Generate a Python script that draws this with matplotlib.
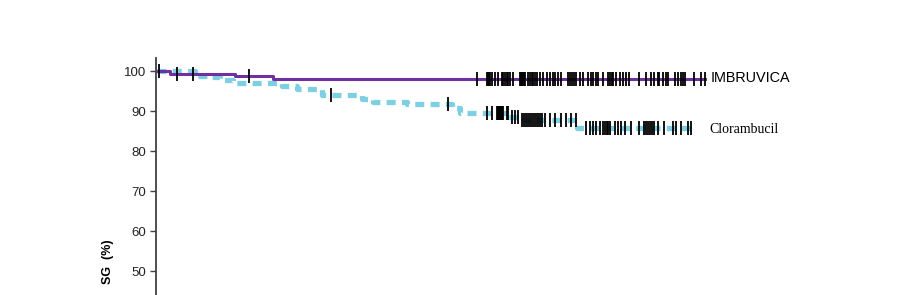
import matplotlib.pyplot as plt
import numpy as np

# survival curves (months, % alive)
ibr_t = [0, 0.87, 5.2, 7.7, 36.53]
ibr_s = [100, 99.2, 98.8, 98.0, 98.0]

clb_t = [0, 2.53, 3.33, 4.2, 5.07, 8.33, 9.33, 11.0, 13.67, 14.4, 16.67,
         19.67, 20.2, 23.4, 24.2, 28.0, 35.6]
clb_s = [100, 98.8, 98.4, 97.7, 96.9, 96.2, 95.4, 94.0, 93.0, 92.3, 91.75,
         90.7, 89.4, 88.4, 87.75, 85.7, 85.7]

# censored patients
ibr_cens = [0.13, 1.33, 2.4, 6.13, 21.33, 22.0, 22.07, 22.13, 22.2, 22.33,
            22.53, 22.73, 23.0, 23.07, 23.2, 23.33, 23.4, 23.53, 23.73, 24.2,
            24.27, 24.33, 24.4, 24.47, 24.53, 24.73, 24.87, 25.0, 25.07, 25.2,
            25.33, 25.53, 25.73, 26.0, 26.2, 26.4, 26.53, 26.73, 26.93, 27.4,
            27.53, 27.67, 27.8, 27.93, 28.2, 28.4, 28.73, 28.93, 29.07, 29.27,
            29.4, 29.73, 30.07, 30.2, 30.33, 30.4, 30.6, 30.87, 31.07, 31.27,
            31.47, 32.13, 32.6, 32.93, 33.13, 33.4, 33.47, 33.73, 33.93, 34.07,
            34.53, 34.73, 34.93, 35.07, 35.2, 35.8, 36.27, 36.53]
clb_cens = [11.6, 19.4, 22.0, 22.33, 22.67, 22.73, 22.8, 22.87, 22.93, 23.0,
            23.07, 23.33, 23.38, 23.67, 23.87, 24.07, 24.33, 24.47, 24.6,
            24.73, 24.87, 25.0, 25.13, 25.27, 25.4, 25.53, 25.67, 25.87, 26.2,
            26.53, 26.93, 27.27, 27.6, 27.93, 28.6, 28.87, 29.07, 29.27, 29.53,
            29.73, 29.87, 30.0, 30.07, 30.2, 30.53, 30.73, 30.93, 31.2, 31.6,
            32.13, 32.47, 32.6, 32.73, 32.87, 33.0, 33.13, 33.4, 33.8, 34.4,
            34.6, 34.93, 35.4, 35.6]

yticks = [50, 60, 70, 80, 90, 100]


def step_at(t, times, surv):
    idx = np.searchsorted(times, t, side='right') - 1
    return np.asarray(surv)[idx]


fig = plt.figure(figsize=(9.19, 2.95), dpi=100)
ax = fig.add_axes([156 / 919, 0, 0.9 - 156 / 919, (295 - 58) / 295])

ax.plot(clb_t, clb_s, drawstyle='steps-post', color='#7ecfe1', lw=3.8,
        dashes=(1.7, 1.2), solid_capstyle='butt', zorder=2)
ax.plot(ibr_t, ibr_s, drawstyle='steps-post', color='#7030a0', lw=2.2,
        zorder=3)

ax.plot(ibr_cens, step_at(ibr_cens, ibr_t, ibr_s), ls='none', marker='|',
        ms=9.5, mew=1.3, color='black', zorder=4)
ax.plot(clb_cens, step_at(clb_cens, clb_t, clb_s), ls='none', marker='|',
        ms=9.5, mew=1.3, color='black', zorder=4)

ax.text(36.93, 98.2, 'IMBRUVICA', fontsize=10.4, family='Liberation Sans',
        va='center', ha='left')
ax.text(36.8, 85.5, 'Clorambucil', fontsize=10, family='Liberation Serif',
        va='center', ha='left')

ax.set_xlim(-0.07, (0.9 * 919 - 157) / 15)
ax.set_ylim(44, 103.25)
ax.set_yticks(yticks)
ax.set_xticks([])
for s in ['top', 'right', 'bottom']:
    ax.spines[s].set_visible(False)
ax.spines['left'].set_color('#404040')
ax.spines['left'].set_linewidth(1.3)
ax.tick_params(axis='y', length=4, width=1, color='#404040', pad=3,
               labelsize=9.5)
for lab in ax.get_yticklabels():
    lab.set_family('Liberation Sans')
    lab.set_color('#222222')

fig.text(108 / 919, 1 - 262 / 295, 'SG  (%)', rotation=90, ha='center',
         va='center', fontsize=9, fontweight='bold', family='Liberation Sans')

fig.savefig('out.png', dpi=100)
